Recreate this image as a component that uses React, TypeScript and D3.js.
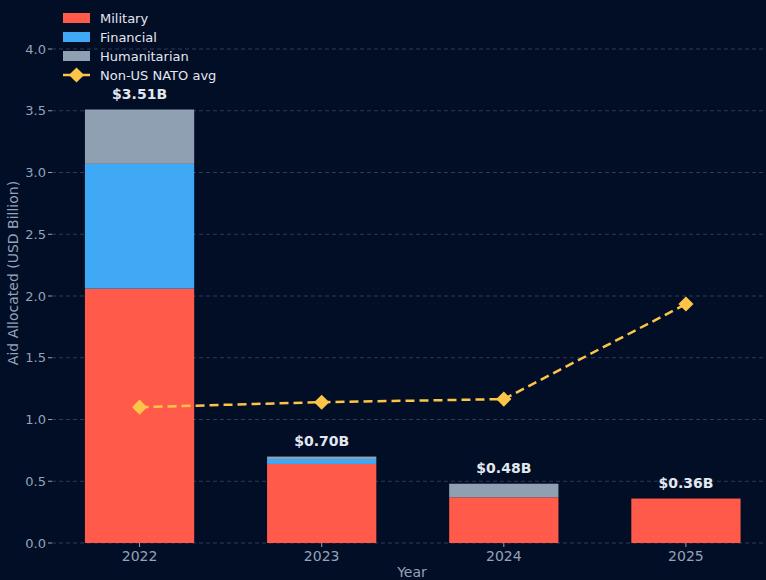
import React from "react";
import * as d3 from "d3";

const years = ["2022", "2023", "2024", "2025"];
const military = [2.06, 0.64, 0.37, 0.36];
const financial = [1.01, 0.04, 0.0, 0.0];
const humanitarian = [0.44, 0.02, 0.11, 0.0];
const totals = [3.51, 0.70, 0.48, 0.36];
const natoAvg = [1.10, 1.14, 1.165, 1.935];
const yTicks = [0, 0.5, 1.0, 1.5, 2.0, 2.5, 3.0, 3.5, 4.0];
const seriesNames = ["Military", "Financial", "Humanitarian"];
const seriesColors = ["#FF5A4A", "#3FA9F5", "#8FA0B3"];

const W = 766, H = 580;
const BG = "#020D26";
const TXT = "#94A3B8";
const FONT = "DejaVu Sans, sans-serif";

export default function App() {
  const x = d3.scaleLinear().domain([-0.5, 3.5]).range([48.5, 777]);
  const y = d3.scaleLinear().domain([0, 4.0]).range([543, 49]);
  const barW = x(0.3) - x(-0.3);
  const rows = years.map((yr, i) => ({ yr, Military: military[i], Financial: financial[i], Humanitarian: humanitarian[i] }));
  const stack = d3.stack<any>().keys(seriesNames)(rows);
  const line = d3.line<number>().x((_, i) => x(i)).y((d) => y(d));
  const left = 52;
  const diamond = d3.symbol(d3.symbolSquare, 115)() || "";

  return (
    <svg width={W} height={H} style={{ display: "block", position: "absolute", left: 0, top: 0, background: BG }} fontFamily={FONT}>
      <rect x={0} y={0} width={W} height={H} fill={BG} />
      <defs>
        <clipPath id="plot"><rect x={left} y={0} width={W - left} height={H} /></clipPath>
      </defs>
      {yTicks.map((t) => (
        <g key={t}>
          <line x1={left} x2={W} y1={y(t)} y2={y(t)} stroke="#2E3B52" strokeWidth={1} strokeDasharray="4,3" />
          <line x1={left - 4} x2={left} y1={y(t)} y2={y(t)} stroke={TXT} strokeWidth={1} />
          <text x={left - 6} y={y(t)} dy="0.35em" textAnchor="end" fontSize={13} fill={TXT}>{t.toFixed(1)}</text>
        </g>
      ))}
      <g clipPath="url(#plot)">
        {stack.map((s, si) => (
          <g key={si} fill={seriesColors[si]}>
            {s.map((d, i) => d[1] - d[0] > 0 ? (
              <rect key={i} x={x(i) - barW / 2} width={barW} y={y(d[1])} height={y(d[0]) - y(d[1])} />
            ) : null)}
          </g>
        ))}
        {totals.map((t, i) => (
          <text key={i} x={x(i)} y={y(t) - 11} textAnchor="middle" fontSize={14} fontWeight="bold" fill="#E2E8F0">${t.toFixed(2)}B</text>
        ))}
        <path d={line(natoAvg) || ""} fill="none" stroke="#FCC548" strokeWidth={2.5} strokeDasharray="9,5" />
        {natoAvg.map((v, i) => (
          <path key={i} d={diamond} transform={`translate(${x(i)},${y(v)}) rotate(45)`} fill="#FCC548" />
        ))}
      </g>
      {years.map((yr, i) => (
        <g key={yr}>
          <line x1={x(i)} x2={x(i)} y1={543} y2={547} stroke={TXT} />
          <text x={x(i)} y={561} textAnchor="middle" fontSize={14} fill={TXT}>{yr}</text>
        </g>
      ))}
      <text x={412} y={577} textAnchor="middle" fontSize={14} fill={TXT}>Year</text>
      <text transform={`translate(18,273) rotate(-90)`} textAnchor="middle" fontSize={14} fill={TXT}>Aid Allocated (USD Billion)</text>
      <g fontSize={13} fill="#E2E8F0">
        {seriesNames.map((n, i) => (
          <g key={n} transform={`translate(63,${18 + i * 19})`}>
            <rect x={0} y={-5} width={27} height={10} fill={seriesColors[i]} />
            <text x={37} y={0} dy="0.35em" fill="#E2E8F0">{n}</text>
          </g>
        ))}
        <g transform={`translate(63,75)`}>
          <line x1={0} x2={27} y1={0} y2={0} stroke="#FCC548" strokeWidth={2.5} />
          <path d={diamond} transform="translate(13.5,0) rotate(45)" fill="#FCC548" />
          <text x={37} y={0} dy="0.35em" fill="#E2E8F0">Non-US NATO avg</text>
        </g>
      </g>
    </svg>
  );
}
